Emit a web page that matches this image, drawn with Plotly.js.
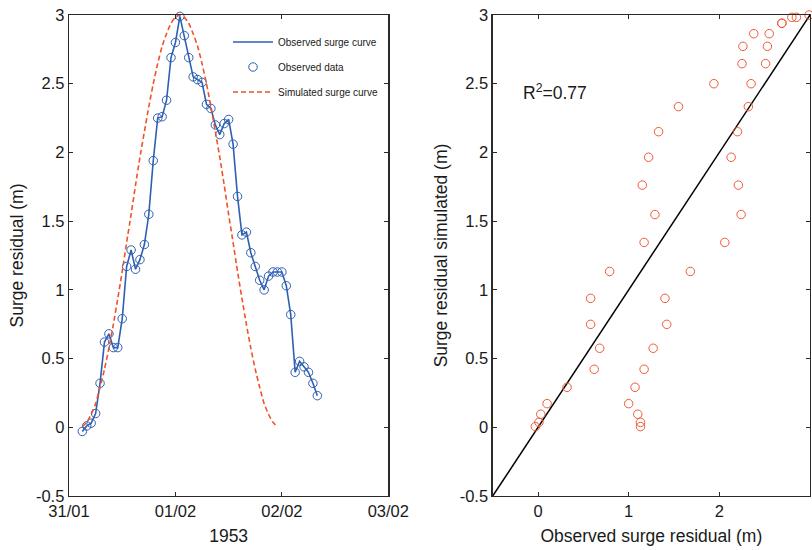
<!DOCTYPE html>
<html>
<head>
<meta charset="utf-8">
<script src="https://cdn.plot.ly/plotly-3.0.1.min.js"></script>
<style>html,body{margin:0;padding:0;background:#fff;}#chart{width:812px;height:550px;}</style>
</head>
<body>
<div id="chart"></div>
<script>
// Hours after 31/01/1953 00:00 for the observed series
var obsHours = [3,4,5,6,7,8,9,10,11,12,13,14,15,16,17,18,19,20,21,22,23,24,25,26,27,28,29,30,31,32,33,34,35,36,37,38,39,40,41,42,43,44,45,46,47,48,49,50,51,52,53,54,55,56];
var obsSurge = [-0.03,0.01,0.03,0.10,0.32,0.62,0.68,0.58,0.58,0.79,1.17,1.29,1.15,1.22,1.33,1.55,1.94,2.25,2.26,2.38,2.69,2.80,2.99,2.85,2.69,2.55,2.53,2.51,2.35,2.32,2.20,2.13,2.21,2.24,2.06,1.68,1.40,1.42,1.27,1.17,1.07,1.00,1.10,1.13,1.13,1.13,1.03,0.82,0.40,0.48,0.44,0.40,0.32,0.23];
// Hours for the simulated series
var simHours = [3,4,5,6,7,8,9,10,11,12,13,14,15,16,17,18,19,20,21,22,23,24,25,26,27,28,29,30,31,32,33,34,35,36,37,38,39,40,41,42,43,44,45,46,47];
var simSurge = [0.005,0.036,0.095,0.172,0.291,0.422,0.575,0.749,0.938,1.134,1.345,1.548,1.762,1.965,2.151,2.333,2.500,2.646,2.772,2.864,2.940,2.983,3.000,2.983,2.940,2.864,2.772,2.646,2.500,2.333,2.151,1.965,1.762,1.548,1.345,1.134,0.938,0.749,0.575,0.422,0.291,0.172,0.095,0.036,0.005];
var dateTickVals = [0,1,2,3];
var dateTickText = ['31/01','01/02','02/02','03/02'];
var yTickVals = [-0.5,0,0.5,1,1.5,2,2.5,3];
var yTickText = ['-0.5','0','0.5','1','1.5','2','2.5','3'];
var xTick2Vals = [0,1,2,3];
var xTick2Text = ['0','1','2','3'];
var refLine = [-0.5,3];
var rSquared = '0.77';

var FONT = 'Liberation Sans, Arial, Helvetica, sans-serif';
var TXT = '#1a1a1a';
var AX = '#2a2a2a';
var BLUE = '#2f5fb3';
var RED = '#f05228';

// convert hours to days for the date axis
var obsDays = obsHours.map(function(h){return h/24;});
var simDays = simHours.map(function(h){return h/24;});
// scatter pairs: observed vs simulated at the same hour
var pairObs = [], pairSim = [];
simHours.forEach(function(h, i){
  var k = obsHours.indexOf(h);
  if (k >= 0) { pairObs.push(obsSurge[k]); pairSim.push(simSurge[i]); }
});

var traces = [
  {x: obsDays, y: obsSurge, type: 'scatter', mode: 'lines', name: 'Observed surge curve',
   line: {color: BLUE, width: 1.6}, xaxis: 'x', yaxis: 'y', legendgroup: 'a'},
  {x: obsDays, y: obsSurge, type: 'scatter', mode: 'markers', name: 'Observed data', cliponaxis: false,
   marker: {symbol: 'circle-open', size: 8.5, color: BLUE, line: {width: 1, color: BLUE}}, xaxis: 'x', yaxis: 'y', legendgroup: 'b'},
  {x: simDays, y: simSurge, type: 'scatter', mode: 'lines', name: 'Simulated surge curve',
   line: {color: RED, width: 1.6, dash: '5px,3px', shape: 'spline', smoothing: 0.6}, xaxis: 'x', yaxis: 'y', legendgroup: 'c'},
  {x: refLine, y: refLine, type: 'scatter', mode: 'lines', showlegend: false,
   line: {color: '#000', width: 1.5}, xaxis: 'x2', yaxis: 'y2'},
  {x: pairObs, y: pairSim, type: 'scatter', mode: 'markers', showlegend: false, cliponaxis: false,
   marker: {symbol: 'circle-open', size: 8.5, color: '#f05a35', line: {width: 1, color: '#f05a35'}}, xaxis: 'x2', yaxis: 'y2'}
];

var tickFont = {family: FONT, size: 16.5, color: TXT};
var titleFont = {family: FONT, size: 17.5, color: TXT};
var axCommon = {showgrid: false, zeroline: false, showline: true, linecolor: AX, linewidth: 1.3,
  mirror: 'ticks', ticks: 'inside', ticklen: 4, tickcolor: AX, tickwidth: 1, tickfont: tickFont, tickmode: 'array'};

var layout = {
  width: 812, height: 550,
  margin: {l: 69, r: 2, t: 15, b: 53.5},
  paper_bgcolor: '#fff', plot_bgcolor: '#fff',
  font: {family: FONT, color: TXT},
  showlegend: true,
  legend: {x: 0.2146, y: 0.974, xanchor: 'left', yanchor: 'top', bgcolor: '#fff', borderwidth: 0,
    font: {family: FONT, size: 10, color: TXT}, itemwidth: 40, tracegroupgap: 6, traceorder: 'grouped'},
  xaxis: Object.assign({}, axCommon, {domain: [0, 0.4309], range: [0, 3], tickvals: dateTickVals, ticktext: dateTickText,
    anchor: 'y', title: {text: '1953', font: titleFont, standoff: 10}}),
  yaxis: Object.assign({}, axCommon, {domain: [0, 1], range: [-0.5, 3], tickvals: yTickVals, ticktext: yTickText,
    anchor: 'x', title: {text: 'Surge residual (m)', font: titleFont, standoff: 7}}),
  xaxis2: Object.assign({}, axCommon, {domain: [0.5718, 1], range: [-0.5, 3], tickvals: xTick2Vals, ticktext: xTick2Text,
    anchor: 'y2', title: {text: 'Observed surge residual (m)', font: titleFont, standoff: 10}}),
  yaxis2: Object.assign({}, axCommon, {domain: [0, 1], range: [-0.5, 3], tickvals: yTickVals, ticktext: yTickText,
    anchor: 'x2', title: {text: 'Surge residual simulated (m)', font: titleFont, standoff: 7}}),
  annotations: [
    {xref: 'x2', yref: 'y2', x: -0.19, y: 2.44, xanchor: 'left', yanchor: 'middle', showarrow: false,
     text: 'R<sup>2</sup>=' + rSquared, font: {family: FONT, size: 17.5, color: TXT}}
  ]
};

Plotly.newPlot('chart', traces, layout, {displayModeBar: false, staticPlot: true});
</script>
</body>
</html>
